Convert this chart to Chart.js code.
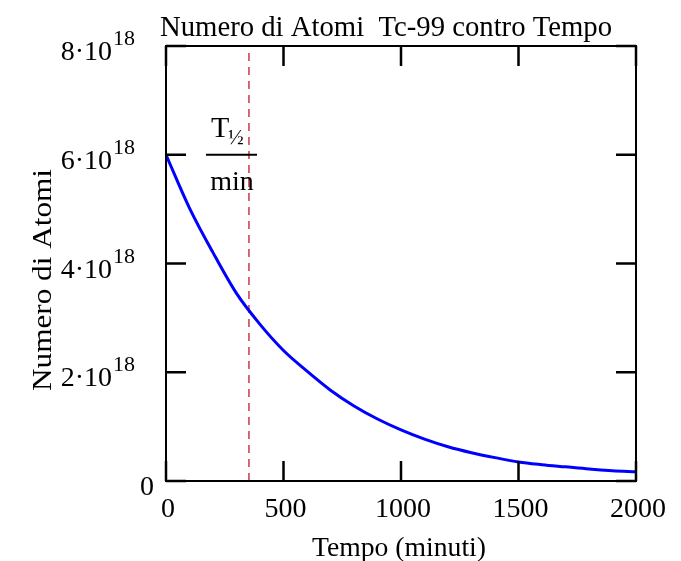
<!DOCTYPE html>
<html>
<head>
<meta charset="utf-8">
<script src="https://cdn.jsdelivr.net/npm/chart.js@4.4.0/dist/chart.umd.min.js"></script>
<style>
  body { margin: 0; background: #fff; }
  #box { width: 681px; height: 561px; }
</style>
</head>
<body>
<div id="box"><canvas id="grafico"></canvas></div>
<script>
// dati
var tempo = [0, 100, 200, 300, 400, 500, 600, 700, 800, 900, 1000,
             1100, 1200, 1300, 1400, 1500, 1600, 1700, 1800, 1900, 2000];
var atomi = [6.00e18, 5.02e18, 4.20e18, 3.45e18, 2.88e18, 2.40e18, 2.02e18,
             1.67e18, 1.38e18, 1.14e18, 0.94e18, 0.77e18, 0.63e18, 0.52e18,
             0.43e18, 0.35e18, 0.30e18, 0.26e18, 0.22e18, 0.19e18, 0.17e18];
var tMezzo = 353;

var xTicks = [0, 500, 1000, 1500, 2000];
var yTicks = [0, 2e18, 4e18, 6e18, 8e18];
var yTickBase = ['0', '2\u00b710', '4\u00b710', '6\u00b710', '8\u00b710'];
var yTickExp = ['', '18', '18', '18', '18'];

var titolo = 'Numero di Atomi  Tc-99 contro Tempo';
var titoloX = 'Tempo (minuti)';
var titoloY = 'Numero di Atomi';

var serif = '"Liberation Serif", "Times New Roman", serif';

function scrivi(ctx, testo, x, y, size, align, larghezza) {
  ctx.save();
  ctx.font = size + 'px ' + serif;
  ctx.fillStyle = '#000';
  ctx.textAlign = align;
  ctx.textBaseline = 'alphabetic';
  var s = 1;
  if (larghezza) s = larghezza / ctx.measureText(testo).width;
  ctx.translate(x, y);
  ctx.scale(s, 1);
  ctx.fillText(testo, 0, 0);
  ctx.restore();
}

var cornice = {
  id: 'cornice',
  afterDatasetsDraw: function (chart) {
    var ctx = chart.ctx;
    var a = chart.chartArea;
    var sx = chart.scales.x, sy = chart.scales.y;
    ctx.save();
    ctx.strokeStyle = '#000';
    ctx.lineWidth = 2;
    ctx.strokeRect(a.left, a.top, a.right - a.left, a.bottom - a.top);
    ctx.lineWidth = 2.5;
    ctx.beginPath();
    xTicks.forEach(function (v) {
      var px = sx.getPixelForValue(v);
      ctx.moveTo(px, a.bottom); ctx.lineTo(px, a.bottom - 20);
      ctx.moveTo(px, a.top); ctx.lineTo(px, a.top + 20);
    });
    yTicks.forEach(function (v) {
      var py = sy.getPixelForValue(v);
      ctx.moveTo(a.left, py); ctx.lineTo(a.left + 20, py);
      ctx.moveTo(a.right, py); ctx.lineTo(a.right - 20, py);
    });
    ctx.stroke();

    // etichette asse x
    xTicks.forEach(function (v) {
      scrivi(ctx, String(v), sx.getPixelForValue(v) + 2, 517, 28, 'center');
    });
    // etichette asse y
    yTicks.forEach(function (v, i) {
      var py = sy.getPixelForValue(v);
      if (yTickExp[i] === '') {
        scrivi(ctx, yTickBase[i], a.left - 12, py + 14, 28, 'right');
      } else {
        scrivi(ctx, yTickBase[i], 112, py + 14, 28, 'right');
        scrivi(ctx, yTickExp[i], 113, py - 1, 22, 'left');
      }
    });

    // frazione T1/2 / min
    var fy = sy.getPixelForValue(6e18);
    ctx.lineWidth = 2;
    ctx.beginPath();
    ctx.moveTo(206, fy); ctx.lineTo(257, fy);
    ctx.stroke();
    scrivi(ctx, 'T', 211, fy - 18, 30, 'left');
    scrivi(ctx, '\u00bd', 228, fy - 11, 21, 'left');
    scrivi(ctx, 'min', 232, fy + 35, 28, 'center');

    // titoli
    scrivi(ctx, titolo, 386, 36, 29, 'center', 452);
    scrivi(ctx, titoloX, 399, 556, 27, 'center', 174);
    ctx.save();
    ctx.translate(51, 280);
    ctx.rotate(-Math.PI / 2);
    scrivi(ctx, titoloY, 0, 0, 28, 'center', 222);
    ctx.restore();
    ctx.restore();
  }
};

var punti = tempo.map(function (t, i) { return { x: t, y: atomi[i] }; });

new Chart(document.getElementById('grafico'), {
  type: 'scatter',
  data: {
    datasets: [
      {
        label: 'N(t)',
        data: punti,
        showLine: true,
        borderColor: '#0000ff',
        borderWidth: 3,
        pointRadius: 0,
        cubicInterpolationMode: 'monotone'
      },
      {
        label: 'T1/2',
        data: [{ x: tMezzo, y: 0 }, { x: tMezzo, y: 8e18 }],
        showLine: true,
        borderColor: 'rgb(200, 0, 30)',
        borderWidth: 1.2,
        borderDash: [8, 6],
        pointRadius: 0
      }
    ]
  },
  options: {
    responsive: true,
    maintainAspectRatio: false,
    animation: false,
    layout: { padding: { top: 46, right: 45, left: 0, bottom: 0 } },
    plugins: { legend: { display: false }, tooltip: { enabled: false } },
    scales: {
      x: {
        type: 'linear', min: 0, max: 2000,
        ticks: { display: false, stepSize: 500 },
        grid: { display: false },
        border: { display: false },
        afterFit: function (s) { s.height = 80; }
      },
      y: {
        type: 'linear', min: 0, max: 8e18,
        ticks: { display: false, stepSize: 2e18 },
        grid: { display: false },
        border: { display: false },
        afterFit: function (s) { s.width = 166; }
      }
    }
  },
  plugins: [cornice]
});
</script>
</body>
</html>
